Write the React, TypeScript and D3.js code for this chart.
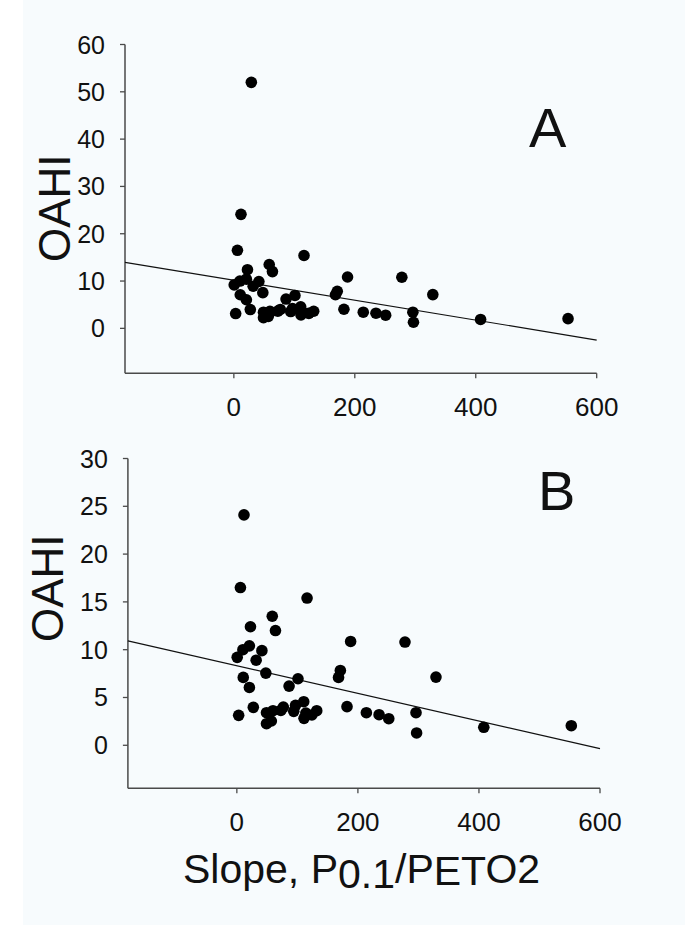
import React from "react";
import * as d3 from "d3";

// Data
const slope: number[] = [
  11.8, 5.9, 116, 58.5, 63.8, 22.5, 20.7, 10, 0.6, 41.4, 31.9, 47.9, 10.6, 20.7, 27.2, 3,
  101, 86.3, 188, 277.8, 329, 168, 171, 182, 214, 235, 251, 296, 297, 408, 552.6,
  49, 49, 57, 59.7, 72.7, 76.8, 94, 97, 110.5, 111, 114, 124, 132,
];
const oahi: number[] = [
  24.1, 16.5, 15.4, 13.5, 12.0, 12.4, 10.4, 10.0, 9.2, 9.9, 8.9, 7.55, 7.1, 6.05, 3.97, 3.13,
  6.96, 6.19, 10.86, 10.8, 7.13, 7.1, 7.83, 4.04, 3.41, 3.2, 2.78, 3.41, 1.29, 1.88, 2.05,
  3.41, 2.26, 2.54, 3.62, 3.65, 4.0, 3.55, 4.18, 4.56, 2.82, 3.37, 3.17, 3.62,
];
// extra outlier shown only in panel A
const outlierSlope: number[] = [28.9];
const outlierOahi: number[] = [52];

const xTicks: number[] = [0, 200, 400, 600];
const yTicksA: number[] = [0, 10, 20, 30, 40, 50, 60];
const yTicksB: number[] = [0, 5, 10, 15, 20, 25, 30];

// regression line end points
const lineAX: number[] = [-180, 600];
const lineAY: number[] = [13.95, -2.47];
const lineBX: number[] = [-180, 600];
const lineBY: number[] = [10.92, -0.35];

const FONT = "'Liberation Sans', Arial, Helvetica, sans-serif";
const AXIS_COLOR = "#4a4a4a";
const TEXT_COLOR = "#111";

type PanelProps = {
  xs: number[];
  ys: number[];
  yTicks: number[];
  yDomain: [number, number];
  xRange: [number, number];
  yRange: [number, number];
  lineX: number[];
  lineY: number[];
  label: string;
  labelX: number;
  labelY: number;
  titleX: number;
  titleY: number;
};

function Panel(p: PanelProps) {
  const x = d3.scaleLinear().domain([-180, 600]).range(p.xRange);
  const y = d3.scaleLinear().domain(p.yDomain).range(p.yRange);
  const left = p.xRange[0];
  const right = p.xRange[1];
  const bottom = p.yRange[0];
  const top = p.yRange[1];
  const line = d3
    .line<number>()
    .x((_, i) => x(p.lineX[i]))
    .y((_, i) => y(p.lineY[i]));
  return (
    <g>
      {/* y axis */}
      <line x1={left} x2={left} y1={top} y2={bottom} stroke={AXIS_COLOR} strokeWidth={1.5} />
      {p.yTicks.map((t) => (
        <g key={"y" + t}>
          <line x1={left - 5} x2={left} y1={y(t)} y2={y(t)} stroke={AXIS_COLOR} strokeWidth={1.3} />
          <text
            x={left - 20}
            y={y(t)}
            dy="0.36em"
            textAnchor="end"
            fontSize={25}
            fontFamily={FONT}
            fill={TEXT_COLOR}
          >
            {t}
          </text>
        </g>
      ))}
      {/* x axis */}
      <line x1={left} x2={right} y1={bottom} y2={bottom} stroke={AXIS_COLOR} strokeWidth={1.5} />
      {xTicks.map((t) => (
        <g key={"x" + t}>
          <line x1={x(t)} x2={x(t)} y1={bottom} y2={bottom + 5} stroke={AXIS_COLOR} strokeWidth={1.3} />
          <text
            x={x(t)}
            y={bottom + 42.4}
            textAnchor="middle"
            fontSize={26}
            fontFamily={FONT}
            fill={TEXT_COLOR}
          >
            {t}
          </text>
        </g>
      ))}
      {/* regression line */}
      <path d={line(p.lineX) || ""} fill="none" stroke="#111" strokeWidth={1.2} />
      {/* points */}
      {p.xs.map((v, i) => (
        <circle key={i} cx={x(v)} cy={y(p.ys[i])} r={5.8} fill="#000" />
      ))}
      {/* panel label */}
      <text x={p.labelX} y={p.labelY} fontSize={56} fontFamily={FONT} fill={TEXT_COLOR}>
        {p.label}
      </text>
      {/* y title */}
      <text
        transform={`translate(${p.titleX},${p.titleY}) rotate(-90)`}
        textAnchor="middle"
        fontSize={44}
        fontFamily={FONT}
        fill={TEXT_COLOR}
      >
        OAHI
      </text>
    </g>
  );
}

export default function App() {
  const xsA = slope.concat(outlierSlope);
  const ysA = oahi.concat(outlierOahi);
  return (
    <svg
      width={685}
      height={925}
      style={{ position: "absolute", left: 0, top: 0, display: "block" }}
    >
      <rect x={0} y={0} width={685} height={925} fill="#ffffff" />
      <rect x={23} y={0} width={662} height={925} fill="#f7fbfd" />
      <Panel
        xs={xsA}
        ys={ysA}
        yTicks={yTicksA}
        yDomain={[-9.5, 60]}
        xRange={[125, 596.7]}
        yRange={[373.3, 44.5]}
        lineX={lineAX}
        lineY={lineAY}
        label="A"
        labelX={529}
        labelY={146.7}
        titleX={70}
        titleY={208.3}
      />
      <Panel
        xs={slope}
        ys={oahi}
        yTicks={yTicksB}
        yDomain={[-4.5, 30]}
        xRange={[127.9, 600]}
        yRange={[788.3, 458.5]}
        lineX={lineBX}
        lineY={lineBY}
        label="B"
        labelX={538}
        labelY={510}
        titleX={63.3}
        titleY={588.3}
      />
      <text x={183} y={883} fontSize={41} fontFamily={FONT} fill={TEXT_COLOR}>
        Slope, P
        <tspan dy={5}>0.1</tspan>
        <tspan dy={-5}>/P</tspan>
        <tspan dy={2}>ET</tspan>
        <tspan dy={-2}>O2</tspan>
      </text>
    </svg>
  );
}
